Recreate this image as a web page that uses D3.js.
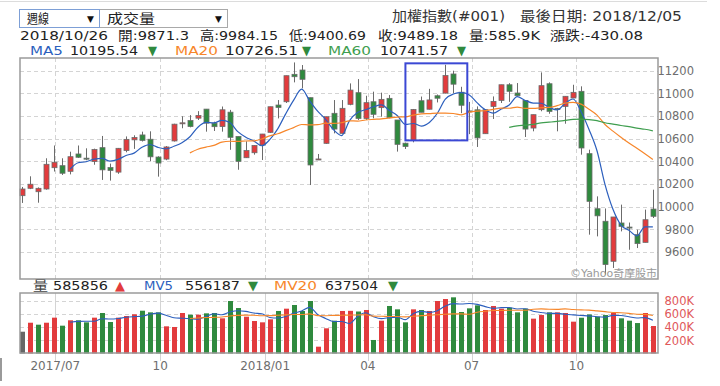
<!DOCTYPE html>
<html>
<head>
<meta charset="utf-8">
<title>加權指數 週線</title>
<style>
body { margin: 0; background: #fff; }
svg { display: block; font-family: "DejaVu Sans", "Noto Sans CJK TC", sans-serif; }
.grid { stroke: #d4d4d4; stroke-dasharray: 4,3; shape-rendering: crispEdges; }
</style>
</head>
<body>
<svg width="720" height="386"></svg>
<script src="https://d3js.org/d3.v7.min.js"></script>
<script>
// weekly candles, first week ends 2017/06/02
var firstWeek = "2017-06-02";

var open  = [10097,10162,10132,10156,10344,10362,10312,10465,10428,10398,10521,10345,10305,10495,10590,10633,10595,10438,10420,10580,
             10734,10760,10781,10861,10737,10707,10834,10620,10432,10476,10544,10656,10897,10926,11168,11206,10962,10414,10559,10824,
             10647,10903,11006,10779,10926,10874,10956,10765,10560,10585,10935,10860,10979,11002,11171,11010,10845,10855,10644,10885,
             10938,11076,11003,10938,10694,10856,11085,10866,10885,10959,11018,10468,9982,9871.3,9518,9856,9820,9753,9685,9979];
var high  = [10174,10268,10170,10427,10540,10427,10485,10540,10515,10512,10624,10380,10518,10620,10630,10662,10665,10445,10535,10732,
             10798,10808,10843,10862,10750,10884,10854,10620,10577,10541,10642,10882,10941,11156,11273,11250,10962,10465,10794,10941,
             10941,11088,11126,10979,11015,11006,10985,10765,10565,10862,10972,11040,10990,11252,11200,11058,10925,10885,10856,10973,
             11076,11090,11091,10938,10812,11185,11097,10872,10974,11076,11062,10503,10091,9984.15,9909,10018,9860,9797,9974,10150];
var low   = [10033,10155,10035,10150,10310,10280,10285,10430,10410,10370,10236,10230,10290,10480,10510,10575,10400,10265,10410,10575,
             10692,10700,10765,10662,10668,10662,10502,10326,10430,10459,10412,10650,10779,10915,11097,11044,10191,10414,10555,10647,
             10645,10895,10765,10765,10780,10794,10780,10486,10509,10568,10833,10858,10920,11000,11000,10825,10640,10527,10644,10774,
             10915,10925,10979,10615,10665,10842,10820,10665,10732,10959,10459,9753,9738,9400.69,9459,9782,9620,9635,9685,9900];
var close = [10156,10198,10162,10374,10392,10295,10441,10436,10420,10505,10325,10320,10515,10594,10610,10585,10440,10385,10527,10728,
             10740,10707,10804,10737,10706,10855,10612,10400,10495,10540,10641,10882,10876,11156,11147,11124,10368,10421,10794,10685,
             10868,11029,10779,10918,10815,10947,10785,10550,10531,10858,10833,10942,10957,11157,11081,10895,10838,10607,10856,10929,
             11076,11018,10980,10685,10812,11068,10841,10860,10974,11009,10518,10047,9919.26,9489.18,9909,9826,9812,9674,9885,9915];
var volume = [332,469,439,469,546,424,506,506,475,546,617,480,546,571,597,652,627,627,414,404,
              617,591,591,612,617,536,800,693,561,495,475,521,648,683,739,648,800,104,384,500,
              648,650,640,663,206,500,724,673,475,673,663,648,800,830,856,632,688,734,663,724,
              683,698,627,683,531,586,627,627,617,485,545,595,561,585.856,617,536,500,464,617,419];

var priceTicks = [9600,9800,10000,10200,10400,10600,10800,11000,11200];
var volTicks = [200000,400000,600000,800000];
var monthTicks = ["2017-07-01","2017-10-01","2018-01-01","2018-04-01","2018-07-01","2018-10-01"];
var monthLabels = ["2017/07","10","2018/01","04","07","10"];

// values shown in the info lines (hovered week 2018/10/26)
var hoverIndex = 73;
var maLegend = [10195.54, 10726.51, 10741.57];
var mvLegend = [585856, 556187, 637504];
// boxed weeks
var boxFrom = 48, boxTo = 55, boxLow = 10585, boxHigh = 11265;

var red = "#e23b3d", green = "#2f8a3e", wickColor = "#6b6b6b";
var maColors = ["#2c5fbd", "#f7862a", "#3f9e4f"];

var parse = d3.timeParse("%Y-%m-%d");
var weeks = open.map(function(d, i) { return d3.timeDay.offset(parse(firstWeek), 7 * i); });
var data = open.map(function(d, i) {
  return {date: weeks[i], o: open[i], h: high[i], l: low[i], c: close[i], v: volume[i] * 1000,
          pc: i > 0 ? close[i - 1] : null};
});

function movingAvg(vals, n) {
  return vals.map(function(v, i) {
    return i < n + 1 ? null : d3.mean(vals.slice(i - n + 1, i + 1));
  });
}

var svg = d3.select("svg");
var L = 20, R = 658, T = 58, B = 279, VT = 293, VB = 353;

var x = d3.scaleTime()
    .domain([new Date(2017, 4, 31), new Date(2018, 11, 11, 12)])
    .range([L, R]);
var y = d3.scaleLinear().domain([9600, 11200]).range([252, 70.7]);
var yv = d3.scaleLinear().domain([0, 800000]).range([353.5, 301]);

// text placed at x0 and squeezed/stretched to width w
function label(x0, y0, str, w, size, color) {
  var t = svg.append("text").attr("x", x0).attr("y", y0).attr("font-size", size)
    .attr("fill", color).text(str);
  if (w) t.attr("textLength", w).attr("lengthAdjust", "spacingAndGlyphs");
  return t;
}

// frame bits around the widget
svg.append("line").attr("x1", 0).attr("x2", 707).attr("y1", 1.5).attr("y2", 1.5)
  .attr("stroke", "#dcdcdc");
svg.append("line").attr("x1", 1).attr("x2", 1).attr("y1", 358).attr("y2", 381)
  .attr("stroke", "#9a9a9a").attr("stroke-width", 2);

// ---- header ----
function selectBox(x0, w, str, tw, border) {
  svg.append("rect").attr("x", x0 + 0.5).attr("y", 9.5).attr("width", w).attr("height", 18)
    .attr("fill", "#fff").attr("stroke", border);
  label(x0 + 8, 23, str, tw, 13, "#222");
  label(x0 + w - 12, 22, "▼", null, 9, "#111");
}
selectBox(99, 128, "成交量", 48, "#a9a9a9");
selectBox(19, 80, "週線", 22, "#7d9fd6");

label(392, 21, "加權指數(#001)", 113, 13.5, "#333");
label(520, 21, "最後日期: 2018/12/05", 162, 13.5, "#333");

var hv = data[hoverIndex];
var fmtDate = d3.timeFormat("%Y/%m/%d");
[
  [fmtDate(hv.date), 20, 88],
  ["開:" + hv.o, 118, 71],
  ["高:" + hv.h, 200, 78],
  ["低:" + hv.l, 289, 77],
  ["收:" + hv.c, 378, 80],
  ["量:" + (hv.v / 1000).toFixed(1) + "K", 469, 71],
  ["漲跌:" + (hv.c - hv.pc).toFixed(2), 550, 93]
].forEach(function(d) { label(d[1], 39.5, d[0], d[2], 13, "#222"); });

// MA legend
[
  ["MA5", 30, 33, maColors[0]], [maLegend[0].toFixed(2), 70, 68, "#222"], ["▼", 148, 9, green],
  ["MA20", 175, 43, maColors[1]], [maLegend[1].toFixed(2), 225, 73, "#222"], ["▼", 302, 9, green],
  ["MA60", 328, 43, maColors[2]], [maLegend[2].toFixed(2), 380, 68, "#222"], ["▼", 457, 9, green]
].forEach(function(d) { label(d[1], 55, d[0], d[2], 13, d[3]); });

// ---- main panel ----
svg.append("g").selectAll("line").data(priceTicks).enter().append("line")
  .attr("class", "grid").attr("x1", L).attr("x2", R)
  .attr("y1", function(d) { return Math.round(y(d)) + 0.5; })
  .attr("y2", function(d) { return Math.round(y(d)) + 0.5; });
svg.append("g").selectAll("line").data(monthTicks).enter().append("line")
  .attr("class", "grid").attr("y1", T).attr("y2", B)
  .attr("x1", function(d) { return Math.round(x(parse(d))) + 0.5; })
  .attr("x2", function(d) { return Math.round(x(parse(d))) + 0.5; });

var yAxis = svg.append("g").attr("transform", "translate(694,0)")
  .call(d3.axisRight(y).tickValues(priceTicks).tickSize(0).tickPadding(0).tickFormat(d3.format("d")));
yAxis.select(".domain").remove();
yAxis.selectAll("text").attr("text-anchor", "end").attr("fill", "#6e6e6e")
  .attr("font-size", 11.5).attr("font-family", "DejaVu Sans");

var candles = svg.append("g");
candles.selectAll("line").data(data).enter().append("line")
  .attr("x1", function(d) { return Math.round(x(d.date)) + 0.5; })
  .attr("x2", function(d) { return Math.round(x(d.date)) + 0.5; })
  .attr("y1", function(d) { return y(d.h); })
  .attr("y2", function(d) { return y(d.l); })
  .attr("stroke", wickColor);
candles.selectAll("rect").data(data).enter().append("rect")
  .attr("x", function(d) { return Math.round(x(d.date)) - 2; })
  .attr("width", 5)
  .attr("y", function(d) { return y(Math.max(d.o, d.c)); })
  .attr("height", function(d) { return Math.max(1, Math.abs(y(d.o) - y(d.c))); })
  .attr("fill", function(d) { return d.c >= d.o ? red : green; })
  .attr("stroke", "#6b6b6b").attr("stroke-width", 0.8);

var maLine = d3.line()
  .defined(function(d) { return d[1] != null; })
  .x(function(d) { return x(d[0]); })
  .y(function(d) { return y(d[1]); })
  .curve(d3.curveMonotoneX);
[5, 20, 60].forEach(function(n, k) {
  var ma = movingAvg(close, n);
  svg.append("path").datum(weeks.map(function(w, i) { return [w, ma[i]]; }))
    .attr("d", maLine).attr("fill", "none").attr("stroke", maColors[k]).attr("stroke-width", 1.2);
});

svg.append("rect")
  .attr("x", x(weeks[boxFrom])).attr("y", y(boxHigh))
  .attr("width", x(weeks[boxTo]) - x(weeks[boxFrom]) + 6)
  .attr("height", y(boxLow) - y(boxHigh))
  .attr("fill", "none").attr("stroke", "#3b48d4").attr("stroke-width", 2);

label(570, 277, "©Yahoo奇摩股市", 87, 10.5, "#9a9a9a");

svg.append("rect").attr("x", L).attr("y", T).attr("width", R - L).attr("height", B - T)
  .attr("fill", "none").attr("stroke", "#9a9a9a").attr("stroke-width", 1.5);

// ---- volume panel ----
[
  ["量", 33, 15, "#444"], [String(mvLegend[0]), 53, 55, "#222"], ["▲", 115, 10, red],
  ["MV5", 144, 29, maColors[0]], [String(mvLegend[1]), 185, 55, "#222"], ["▼", 248, 10, green],
  ["MV20", 274, 43, maColors[1]], [String(mvLegend[2]), 325, 53, "#222"], ["▼", 388, 10, green]
].forEach(function(d) { label(d[1], 290, d[0], d[2], 13, d[3]); });

svg.append("g").selectAll("line").data(volTicks).enter().append("line")
  .attr("class", "grid").attr("x1", L).attr("x2", R)
  .attr("y1", function(d) { return Math.round(yv(d)) + 0.5; })
  .attr("y2", function(d) { return Math.round(yv(d)) + 0.5; });
svg.append("g").selectAll("line").data(monthTicks).enter().append("line")
  .attr("stroke", "#d4d4d4").attr("y1", VT).attr("y2", VB + 8)
  .attr("x1", function(d) { return Math.round(x(parse(d))) + 0.5; })
  .attr("x2", function(d) { return Math.round(x(parse(d))) + 0.5; });

svg.append("g").selectAll("rect").data(data).enter().append("rect")
  .attr("x", function(d) { return Math.round(x(d.date)) - 2; })
  .attr("width", 5)
  .attr("y", function(d) { return yv(d.v); })
  .attr("height", function(d) { return yv(0) - yv(d.v); })
  .attr("fill", function(d) { return d.pc == null ? "#666" : (d.c >= d.pc ? red : green); });

var vLine = d3.line()
  .defined(function(d) { return d[1] != null; })
  .x(function(d) { return x(d[0]); })
  .y(function(d) { return yv(d[1]); })
  .curve(d3.curveMonotoneX);
var vols = volume.map(function(v) { return v * 1000; });
[5, 20].forEach(function(n, k) {
  var mv = movingAvg(vols, n);
  svg.append("path").datum(weeks.map(function(w, i) { return [w, mv[i]]; }))
    .attr("d", vLine).attr("fill", "none").attr("stroke", maColors[k]).attr("stroke-width", 1.1);
});

var vAxis = svg.append("g").attr("transform", "translate(694,0)")
  .call(d3.axisRight(yv).tickValues(volTicks).tickSize(0).tickPadding(0)
    .tickFormat(function(d) { return (d / 1000) + "K"; }));
vAxis.select(".domain").remove();
vAxis.selectAll("text").attr("text-anchor", "end").attr("fill", "#e0585a")
  .attr("font-size", 11.5).attr("font-family", "DejaVu Sans");

svg.append("rect").attr("x", L).attr("y", VT).attr("width", R - L).attr("height", VB - VT)
  .attr("fill", "none").attr("stroke", "#9a9a9a").attr("stroke-width", 1.5);

svg.append("g").selectAll("text").data(monthTicks).enter().append("text")
  .attr("x", function(d) { return x(parse(d)); }).attr("y", 370)
  .attr("text-anchor", "middle").attr("font-size", 12).attr("fill", "#6e6e6e")
  .text(function(d, i) { return monthLabels[i]; });
</script>
</body>
</html>
